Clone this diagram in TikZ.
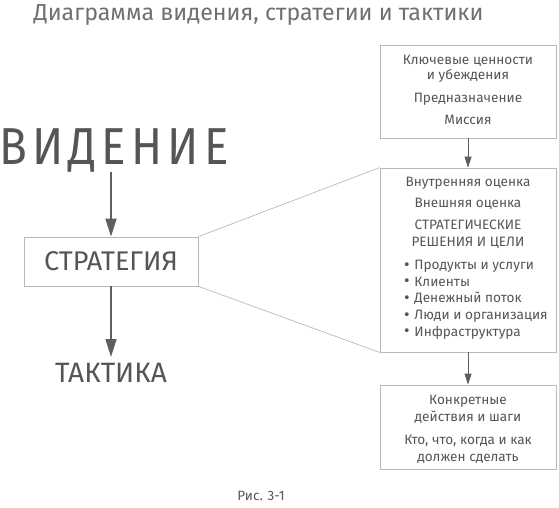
\documentclass[tikz,border=0pt]{standalone}
\usepackage{fontspec}
\setmainfont{Fira Sans}
\newfontfamily\vidfont[FakeStretch=0.88,LetterSpace=10]{Fira Sans}
\usetikzlibrary{arrows.meta}
\definecolor{txt}{HTML}{555555}
\definecolor{ttl}{HTML}{707070}
\definecolor{brd}{HTML}{B8B8B8}
\definecolor{arr}{HTML}{5F5F5F}
\newcommand{\bul}{{\fontsize{17}{16}\selectfont\raisebox{-0.6pt}{•}}\hspace{0.35em}}
\begin{document}
\begin{tikzpicture}[x=1pt,y=-1pt,
  boxstyle/.style={draw=brd,line width=0.8pt,minimum width=176pt,inner sep=0pt},
  bt/.style={text=txt,font=\fontsize{13.6}{15}\selectfont,align=center,inner sep=0pt},
  bigarrow/.style={draw=arr,line width=1.6pt,-{Triangle[length=18pt,width=11pt]}},
  smallarrow/.style={draw=arr,line width=0.9pt,-{Triangle[length=11pt,width=7pt]}},
  funnel/.style={draw=brd,line width=0.7pt}]
\useasboundingbox (0,0) rectangle (559,508);
% title
\node[text=ttl,font=\fontsize{23.2}{26}\selectfont,anchor=base] (title) at (258.5,21) {Диаграмма видения, стратегии и тактики};
% left column
\node[text=txt,font=\fontsize{52}{56}\vidfont,anchor=base west,inner sep=0pt] (vid) at (-1,164) {ВИДЕНИЕ};
\node[draw=brd,line width=0.8pt,minimum width=174pt,minimum height=49pt,inner sep=0pt,text=txt,font=\fontsize{27}{30}\selectfont] (str) at (111,261.5) {СТРАТЕГИЯ};
\node[text=txt,font=\fontsize{28}{30}\selectfont,anchor=base,inner sep=0pt] (tak) at (111,382.5) {ТАКТИКА};
\coordinate (vb) at (111,172);
\draw[bigarrow] (vb) -- (str.north);
\draw[bigarrow] (str.south) -- (111,357) coordinate (tt);
% right boxes
\node[boxstyle,minimum height=93pt] (b1) at (468,91.5) {};
\node[boxstyle,minimum height=184pt] (b2) at (468,260) {};
\node[boxstyle,minimum height=84pt] (b3) at (468,427) {};
\draw[smallarrow] (b1.south) -- (b2.north);
\draw[smallarrow] (b2.south) -- (b3.north);
\draw[funnel] (str.north east) -- (b2.north west);
\draw[funnel] (str.south east) -- (b2.south west);
% box 1 text (base = last line)
\node[bt,anchor=base] (t11) at (468,79.5) {Ключевые ценности\\и убеждения};
\node[bt,anchor=base] (t12) at (468,102.5) {Предназначение};
\node[bt,anchor=base] (t13) at (468,124.5) {Миссия};
% box 2 text
\node[bt,anchor=base] (t21) at (468,186.5) {Внутренняя оценка};
\node[bt,anchor=base] (t22) at (468,207.5) {Внешняя оценка};
\node[bt,anchor=base,font=\fontsize{13.6}{17}\selectfont] (t23) at (468,246.5) {СТРАТЕГИЧЕСКИЕ\\РЕШЕНИЯ И ЦЕЛИ};
\node[bt,align=left,anchor=base west,font=\fontsize{13.6}{16.6}\selectfont] (t24) at (404,336) {\bul Продукты и услуги\\\bul Клиенты\\\bul Денежный поток\\\bul Люди и организация\\\bul Инфраструктура};
% box 3 text
\node[bt,anchor=base,font=\fontsize{13.6}{17}\selectfont] (t31) at (468,421.5) {Конкретные\\действия и шаги};
\node[bt,anchor=base,font=\fontsize{13.6}{17}\selectfont] (t32) at (468,461.5) {Кто, что, когда и как\\должен сделать};
% caption
\node[text=txt,font=\fontsize{13.5}{15}\selectfont,anchor=base] (cap) at (261,500) {Рис. 3-1};
\end{tikzpicture}
\end{document}
